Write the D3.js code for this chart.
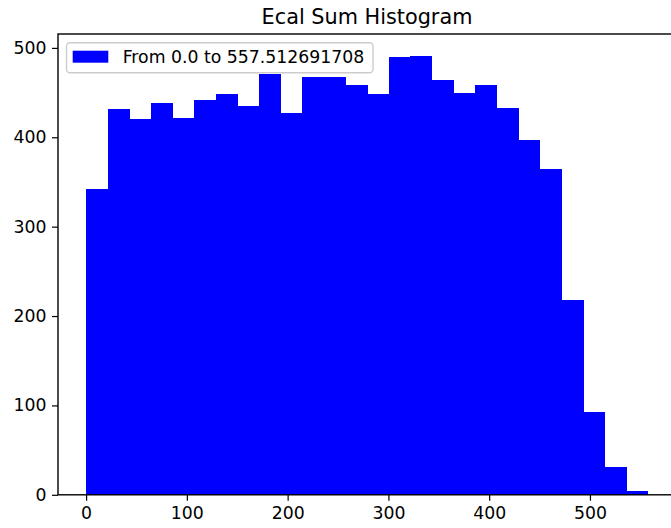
<!DOCTYPE html>
<html>
<head>
<meta charset="utf-8">
<script src="https://cdn.jsdelivr.net/npm/d3@7"></script>
<style>
  html, body { margin: 0; padding: 0; background: #fff; }
  svg { display: block; font-family: "DejaVu Sans", sans-serif; }
</style>
</head>
<body>
<svg id="chart" width="671" height="528"></svg>
<script>
// Histogram of the ECAL energy sum: 26 equal-width bins from 0 to the maximum
const rangeMin = 0.0;
const rangeMax = 557.512691708;
const binCounts = [342, 432, 421, 438, 422, 442, 448, 435, 471, 427, 467, 467, 459,
                   448, 490, 491, 464, 449, 458, 433, 397, 365, 218, 93, 31, 4];
const xTicks = [0, 100, 200, 300, 400, 500];
const yTicks = [0, 100, 200, 300, 400, 500];
const titleText = "Ecal Sum Histogram";
const legendText = "From 0.0 to 557.512691708";

const nBins = binCounts.length;
const binWidth = (rangeMax - rangeMin) / nBins;
const bins = binCounts.map((c, i) => ({
  x0: rangeMin + i * binWidth,
  x1: rangeMin + (i + 1) * binWidth,
  count: c
}));

const svg = d3.select("#chart");
const plot = { left: 58, right: 676, top: 34, bottom: 494.8 };
const fontPx = 17.3;

// matplotlib-style 5% margins on x, top margin on y
const span = rangeMax - rangeMin;
const x = d3.scaleLinear()
  .domain([rangeMin - 0.05 * span, rangeMax + 0.05 * span])
  .range([plot.left, plot.right]);
const yMax = d3.max(binCounts) * 1.05;
const y = d3.scaleLinear()
  .domain([0, yMax])
  .range([plot.bottom, plot.top]);

// bars; crisp edges so neighbouring bars join without seams
svg.append("g")
  .attr("shape-rendering", "crispEdges")
  .selectAll("rect")
  .data(bins)
  .join("rect")
  .attr("x", d => x(d.x0))
  .attr("width", d => x(d.x1) - x(d.x0) + 0.5)
  .attr("y", d => y(d.count))
  .attr("height", d => y(0) - y(d.count))
  .attr("fill", "#0000ff");

// axes
const xAxis = d3.axisBottom(x).tickValues(xTicks).tickSize(6).tickPadding(5.5)
  .tickFormat(d3.format("d"));
const yAxis = d3.axisLeft(y).tickValues(yTicks).tickSize(6).tickPadding(5.5)
  .tickFormat(d3.format("d"));

const gx = svg.append("g")
  .attr("transform", `translate(0,${plot.bottom})`)
  .call(xAxis);
const gy = svg.append("g")
  .attr("transform", `translate(${plot.left},0)`)
  .call(yAxis);

[gx, gy].forEach(g => {
  g.select(".domain").remove();
  g.selectAll(".tick line").attr("stroke", "#000").attr("stroke-width", 1.2);
  g.selectAll(".tick text")
    .attr("fill", "#000")
    .style("font-size", fontPx + "px")
    .style("font-family", "DejaVu Sans, sans-serif");
});
gx.selectAll(".tick text").attr("dy", "0.72em");

// spines (the right one falls just outside the canvas)
svg.append("rect")
  .attr("x", plot.left)
  .attr("y", plot.top)
  .attr("width", plot.right - plot.left)
  .attr("height", plot.bottom - plot.top)
  .attr("fill", "none")
  .attr("stroke", "#000")
  .attr("stroke-width", 1.4);

// title
svg.append("text")
  .attr("x", (plot.left + plot.right) / 2)
  .attr("y", 23.6)
  .attr("text-anchor", "middle")
  .attr("fill", "#000")
  .style("font-size", "20.8px")
  .text(titleText);

// legend
const legend = svg.append("g");
legend.append("rect")
  .attr("x", 66.5)
  .attr("y", 42.7)
  .attr("width", 306.5)
  .attr("height", 30)
  .attr("rx", 3.5)
  .attr("fill", "#fff")
  .attr("fill-opacity", 0.8)
  .attr("stroke", "#cccccc")
  .attr("stroke-width", 1.4);
legend.append("rect")
  .attr("x", 72.7)
  .attr("y", 50.7)
  .attr("width", 35.6)
  .attr("height", 12)
  .attr("fill", "#0000ff");
legend.append("text")
  .attr("x", 122.7)
  .attr("y", 63)
  .attr("fill", "#000")
  .style("font-size", fontPx + "px")
  .text(legendText);
</script>
</body>
</html>
